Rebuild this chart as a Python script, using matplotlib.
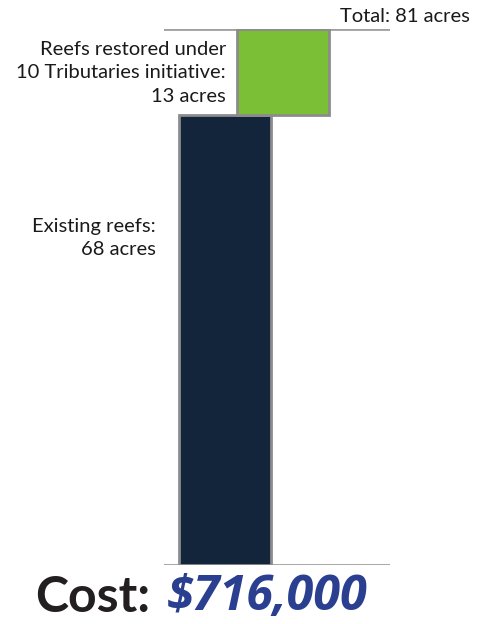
import matplotlib
matplotlib.use("Agg")
import matplotlib.pyplot as plt

# reef acreage (waterfall)
labels = ["Existing reefs:\n68 acres", "Reefs restored under\n10 Tributaries initiative:\n13 acres"]
values = [68, 13]
total = sum(values)
cost = "$716,000"

plt.rcParams['font.family'] = ['Lato', 'DejaVu Sans']

W, H = 487, 624
fig = plt.figure(figsize=(W / 100, H / 100), dpi=100)
# axes placed in pixel coordinates of the reference
ax = fig.add_axes([164 / W, 1 - 565 / H, (390 - 164) / W, (565 - 29) / H])

xpos = [0, 0.625]
bottoms = [0, values[0]]
colors = ["#12253a", "#7bbf36"]
ax.bar(xpos, values, width=1.0, bottom=bottoms, color=colors,
       edgecolor="#8c8c8c", linewidth=2, zorder=3)

ax.set_xlim(-0.663, 1.793)
ax.set_ylim(0, total)
ax.axhline(0, color="#a0a0a0", linewidth=2, zorder=2)
ax.axhline(total, color="#a0a0a0", linewidth=2, zorder=2)
for s in ax.spines.values():
    s.set_visible(False)
ax.set_xticks([])
ax.set_yticks([])

fs = 14.5
fig.text(470 / W, 1 - 16 / H, f"Total: {total} acres", ha="right", va="center", fontsize=fs, color="#1a1a1a")
fig.text(226 / W, 1 - 73 / H, labels[1], ha="right", va="center", fontsize=fs,
         color="#1a1a1a", linespacing=1.45)
fig.text(156 / W, 1 - 238 / H, labels[0], ha="right", va="center", fontsize=fs,
         color="#1a1a1a", linespacing=1.45)

fig.text(150 / W, 1 - 598 / H, "Cost:", ha="right", va="center", fontsize=36,
         fontweight="bold", color="#231f20", family=["Lato", "DejaVu Sans"])
fig.text(167 / W, 1 - 598 / H, cost, ha="left", va="center", fontsize=35,
         fontweight="bold", fontstyle="italic", color="#2a3f8f",
         family=["Open Sans", "DejaVu Sans"])

fig.savefig("out.png", dpi=100)
